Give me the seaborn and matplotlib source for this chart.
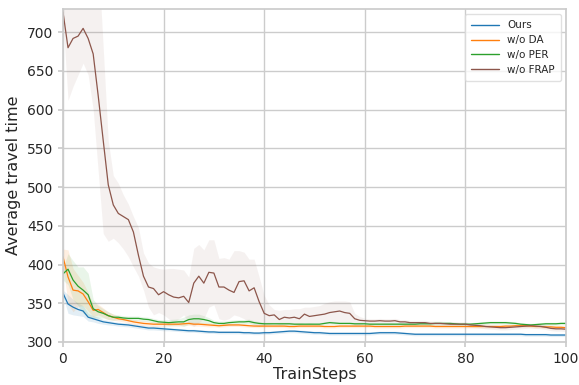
import numpy as np
import pandas as pd
import matplotlib
matplotlib.use("Agg")
import matplotlib.pyplot as plt
import seaborn as sns

steps = list(range(101))
labels = ["Ours", "w/o DA", "w/o PER", "w/o FRAP"]
colors = ["#1f77b4", "#ff7f0e", "#2ca02c", "#8c564b"]

ours = [363, 349, 345, 342, 340, 332, 330, 328, 326, 325,
        324, 323, 322.5, 322, 321, 320, 319, 318, 318, 317.5,
        317, 316.5, 316, 315.5, 315, 314.5, 314.5, 314, 313.5, 313,
        313, 312.5, 312.5, 312.5, 312.5, 312.5, 312, 312, 311.5, 311.5,
        312, 312, 312.5, 313, 313.5, 314, 314, 313.5, 313, 312.5,
        312, 312, 311.5, 311, 311, 311, 311, 311, 311, 311,
        311, 311, 311.5, 312, 312, 312, 312, 311.5, 311, 310.5,
        310, 310, 310, 310, 310, 310, 310, 310, 310, 310,
        310, 310, 310, 310, 310, 310, 310, 310, 310, 310,
        310, 310, 309.5, 309.5, 309.5, 309.5, 309.5, 309, 309, 309,
        309]

wo_da = [410, 384, 367, 366, 362, 352, 341, 342, 338, 334,
         332, 330, 329, 327.5, 326, 325, 324, 323.5, 323, 323,
         323, 323, 323, 323, 323.5, 324, 323, 323, 322.5, 322,
         321.5, 321, 321.5, 322, 322, 322, 321.5, 321, 320.6, 320.5,
         320.5, 320.5, 320.5, 320.5, 320.5, 320, 320, 320.5, 320.5, 320.5,
         320.5, 320.5, 320, 320, 320, 320.5, 320.5, 320.5, 320.5, 320.5,
         320.5, 320.5, 320, 320, 320, 320, 320, 320, 320.5, 320.5,
         320.5, 320.5, 320.5, 320.5, 320, 320, 320, 320, 320, 320,
         320, 320, 320, 320, 320, 320, 320, 320, 320.5, 320.5,
         321, 321, 321, 320.5, 320, 320, 319.5, 319.5, 319, 319,
         318.5]

wo_per = [388, 394, 380, 372, 367, 361, 343, 339, 337, 334,
          332, 332, 331, 330.5, 330.5, 330.5, 329.5, 329, 327.5, 326,
          325.5, 325, 325.5, 326, 326, 329, 330, 330, 329, 327.5,
          325, 324, 324, 325, 325.5, 326, 326, 326.5, 325, 324,
          323.5, 323.5, 323.5, 323.5, 323.5, 323.5, 323, 323, 323, 323,
          323, 323, 324, 325, 324.5, 324, 324, 324, 323.5, 323.5,
          323.5, 323, 323, 323, 323, 323, 323, 323, 323, 323,
          323, 323.5, 323.5, 323.5, 324, 324, 324, 324, 323.5, 323,
          323, 323, 323.5, 324, 324.5, 325, 325, 325, 325, 324.5,
          324, 323, 322.5, 322, 322.5, 323, 323.5, 323.5, 323.5, 324,
          324]

wo_frap = [726, 680, 692, 695, 705, 692, 672, 618, 560, 503,
           477, 466, 462, 458, 442, 412, 385, 371, 369, 361,
           365, 361, 358, 357, 359, 351, 376, 385, 376, 390,
           389, 371, 371, 367, 364, 378, 379, 366, 370, 352,
           337, 334, 335, 329, 332, 331, 332, 330, 336, 333,
           334, 335, 336, 338, 339, 340, 338, 337, 330, 328,
           327.5, 327, 327, 327.5, 327, 327, 327.5, 326, 326, 325,
           325, 325, 325, 324, 324, 324, 323.5, 323, 323, 323,
           323, 322, 321.5, 321, 320, 319.5, 319, 318.5, 318.5, 319,
           319.5, 320, 320.5, 321, 320.5, 320, 319, 317.6, 317, 317,
           316.5]

# Confidence band for w/o FRAP
frap_low = [715, 612, 630, 645, 660, 645, 600, 520, 440, 430,
            434, 428, 420, 410, 397, 385, 367, 345, 335, 338,
            335, 330, 325, 330, 335, 325, 320, 325, 330, 345,
            348, 330, 328, 330, 335, 333, 330, 325, 322, 320,
            322, 323, 325, 322, 323, 323, 324, 323, 325, 324,
            325, 325, 325, 325, 325, 326, 326, 326, 322, 322,
            324.5, 324, 324, 324.5, 324, 324, 324.5, 323, 323, 322,
            322, 322, 322, 321, 321, 321, 320.5, 320, 320, 320,
            320, 319, 318.5, 318, 317, 316.5, 316, 315.5, 315.5, 316,
            316.5, 317, 317.5, 318, 317.5, 317, 316, 314.6, 314, 314,
            313.5]
frap_high = [740, 800, 800, 800, 800, 800, 800, 800, 680, 560,
             515, 505, 490, 478, 462, 448, 415, 402, 397, 395,
             394, 395, 395, 394, 393, 384, 421, 426, 419, 432,
             432, 408, 409, 407, 418, 418, 416, 407, 407, 384,
             360, 348, 342, 341, 342, 342, 343, 343, 345, 345,
             346, 347, 350, 352, 353, 353, 353, 352, 337, 333,
             330.5, 330, 330, 330.5, 330, 330, 330.5, 329, 329, 328,
             328, 328, 328, 327, 327, 327, 326.5, 326, 326, 326,
             326, 325, 324.5, 324, 323, 322.5, 322, 321.5, 321.5, 322,
             322.5, 323, 323.5, 324, 323.5, 323, 322, 320.6, 320, 320,
             319.5]

# Half-widths of the bands for the other three runs
ours_spread = [4, 12, 10, 8, 7, 5, 4, 4, 3, 3,
               2.5, 2.5, 2.5, 2.5, 2.5, 2.5, 2.5, 2.5, 2.5, 2.5,
               2.5, 2, 2, 2, 2, 2, 2, 2, 2, 2,
               2, 2, 2, 2, 2, 2, 2, 2, 2, 2,
               2, 2, 2, 2, 2, 2, 2, 2, 2, 2,
               2, 2, 2, 2, 2, 2, 2, 2, 2, 2,
               2, 2, 2, 2, 2, 2, 2, 2, 2, 2,
               2, 2, 2, 2, 2, 2, 2, 2, 2, 2,
               2, 2, 2, 2, 2, 2, 2, 2, 2, 2,
               2, 2, 2, 2, 2, 2, 2, 2, 2, 2,
               2]
da_spread = [10, 35, 28, 20, 15, 12, 8, 7, 6, 5,
             4, 3, 3, 3, 3, 3, 3, 3, 3, 3,
             3, 2.5, 2.5, 2.5, 2.5, 2.5, 2.5, 2.5, 2.5, 2.5,
             2, 2, 2, 2, 2, 2, 2, 2, 2, 2,
             2, 2, 2, 2, 2, 2, 2, 2, 2, 2,
             2, 2, 2, 2, 2, 2, 2, 2, 2, 2,
             2, 2, 2, 2, 2, 2, 2, 2, 2, 2,
             2, 2, 2, 2, 2, 2, 2, 2, 2, 2,
             2, 2, 2, 2, 2, 2, 2, 2, 2, 2,
             2, 2, 2, 2, 2, 2, 2, 2, 2, 2,
             2]
per_spread = [8, 20, 25, 25, 30, 28, 12, 8, 6, 5,
              4, 3, 3, 3, 3, 3, 3, 3, 3, 3,
              3, 4, 4, 4, 6, 6, 6, 6, 5, 4,
              3, 3, 3, 3, 3, 3, 3, 3, 2.5, 2.5,
              2, 2, 2, 2, 2, 2, 2, 2, 2, 2,
              2, 2, 2, 2, 2, 2, 2, 2, 2, 2,
              2, 2, 2, 2, 2, 2, 2, 2, 2, 2,
              2, 2, 2, 2, 2, 2, 2, 2, 2, 2,
              2, 2, 2, 2, 2, 2, 2, 2, 2, 2,
              2, 2, 2, 2, 2, 2, 2, 2, 2, 2,
              2]

sns.set_theme(style="whitegrid")
plt.rcParams["font.family"] = ["DejaVu Sans"]
plt.rcParams.update({
    "axes.edgecolor": "0.8",
    "grid.color": "0.8",
    "xtick.bottom": True,
    "ytick.left": True,
    "xtick.color": "0.8",
    "ytick.color": "0.8",
    "xtick.labelcolor": "0.15",
    "ytick.labelcolor": "0.15",
    "xtick.major.size": 3.5,
    "ytick.major.size": 3.5,
})

series = [ours, wo_da, wo_per, wo_frap]
frames = []
for name, vals in zip(labels, series):
    frames.append(pd.DataFrame({"TrainSteps": steps, "Average travel time": vals, "run": name}))
df = pd.concat(frames, ignore_index=True)

fig = plt.figure(figsize=(5.79, 3.85), dpi=100)
ax = fig.add_axes([0.1088, 0.1117, 0.8687, 0.8649])

bands = [
    (np.array(ours) - np.array(ours_spread), np.array(ours) + np.array(ours_spread)),
    (np.array(wo_da) - np.array(da_spread), np.array(wo_da) + np.array(da_spread)),
    (np.array(wo_per) - np.array(per_spread), np.array(wo_per) + np.array(per_spread)),
    (np.array(frap_low), np.array(frap_high)),
]
band_alpha = [0.12, 0.12, 0.1, 0.08]
for (lo, hi), c, a in zip(bands, colors, band_alpha):
    ax.fill_between(steps, lo, hi, color=c, alpha=a, linewidth=0)

sns.lineplot(data=df, x="TrainSteps", y="Average travel time", hue="run",
             hue_order=labels, palette=colors, linewidth=0.9, ax=ax)

ax.set_xlim(0, 100)
ax.set_ylim(300, 730)
ax.set_xticks([0, 20, 40, 60, 80, 100])
ax.set_yticks([300, 350, 400, 450, 500, 550, 600, 650, 700])
ax.tick_params(labelsize=10)
ax.set_xlabel("TrainSteps", fontsize=11.5, color="0.15", labelpad=1)
ax.set_ylabel("Average travel time", fontsize=11.5, color="0.15", labelpad=4)

leg = ax.legend(loc="upper right", fontsize=7.5, frameon=True, borderpad=0.6,
                handlelength=2.6, labelspacing=0.45)
leg.get_frame().set_edgecolor("0.85")
for line in leg.get_lines():
    line.set_linewidth(1.0)

fig.savefig("out.png", dpi=100)
